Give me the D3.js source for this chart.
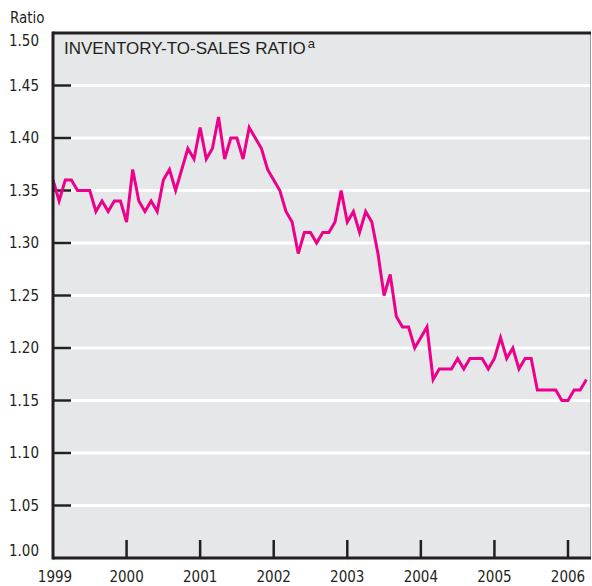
<!DOCTYPE html>
<html>
<head>
<meta charset="utf-8">
<script src="https://cdn.jsdelivr.net/npm/d3@7"></script>
<style>
  html, body { margin: 0; padding: 0; background: #fff; }
  svg { display: block; }
  .lab { font-family: "Liberation Sans Narrow", "DejaVu Sans Condensed", "Arial Narrow", sans-serif; font-size: 15px; fill: #231f20; }
  .title { font-family: "Liberation Sans", Arial, sans-serif; font-size: 17px; fill: #231f20; }
</style>
</head>
<body>
<div id="chart"></div>
<script>
// monthly inventory-to-sales ratio, Jan 1999 .. Apr 2006
const ratio1999 = [1.36, 1.34, 1.36, 1.36, 1.35, 1.35, 1.35, 1.33, 1.34, 1.33, 1.34, 1.34]
const ratio2000 = [1.32, 1.37, 1.34, 1.33, 1.34, 1.33, 1.36, 1.37, 1.35, 1.37, 1.39, 1.38]
const ratio2001 = [1.41, 1.38, 1.39, 1.42, 1.38, 1.40, 1.40, 1.38, 1.41, 1.40, 1.39, 1.37]
const ratio2002 = [1.36, 1.35, 1.33, 1.32, 1.29, 1.31, 1.31, 1.30, 1.31, 1.31, 1.32, 1.35]
const ratio2003 = [1.32, 1.33, 1.31, 1.33, 1.32, 1.29, 1.25, 1.27, 1.23, 1.22, 1.22, 1.20]
const ratio2004 = [1.21, 1.22, 1.17, 1.18, 1.18, 1.18, 1.19, 1.18, 1.19, 1.19, 1.19, 1.18]
const ratio2005 = [1.19, 1.21, 1.19, 1.20, 1.18, 1.19, 1.19, 1.16, 1.16, 1.16, 1.16, 1.15]
const ratio2006 = [1.15, 1.16, 1.16, 1.17]

const years = ["1999", "2000", "2001", "2002", "2003", "2004", "2005", "2006"]
const yTicks = [1.00, 1.05, 1.10, 1.15, 1.20, 1.25, 1.30, 1.35, 1.40, 1.45, 1.50]

const ratios = [].concat(ratio1999, ratio2000, ratio2001, ratio2002, ratio2003, ratio2004, ratio2005, ratio2006)

const w = 592,
      h = 586,
      margin = {top: 33, right: 1, bottom: 28, left: 53},
      x = d3.scaleLinear()
        .domain([0, 84])   // months since Jan 1999
        .range([margin.left, 568]),
      y = d3.scaleLinear()
        .domain([1.0, 1.5])
        .range([h - margin.bottom, margin.top])

const svg = d3.select("#chart").append("svg")
  .attr("width", w)
  .attr("height", h)

// panel background
svg.append("rect")
  .attr("x", x(0))
  .attr("y", y(1.5))
  .attr("width", w - margin.right - x(0))
  .attr("height", y(1.0) - y(1.5))
  .attr("fill", "#e6e7e8")

// white gridlines
svg.append("g")
  .selectAll("line")
  .data(yTicks.filter(d => d > 1.0 && d < 1.5))
  .join("line")
    .attr("x1", x(0))
    .attr("x2", w - margin.right)
    .attr("y1", d => y(d))
    .attr("y2", d => y(d))
    .attr("stroke", "#fff")
    .attr("stroke-width", 3)

// right border
svg.append("line")
  .attr("x1", w - margin.right - 0.5)
  .attr("x2", w - margin.right - 0.5)
  .attr("y1", y(1.5))
  .attr("y2", y(1.0))
  .attr("stroke", "#9a9a9a")
  .attr("stroke-width", 1)

// top border
svg.append("line")
  .attr("x1", x(0))
  .attr("x2", w - margin.right)
  .attr("y1", y(1.5))
  .attr("y2", y(1.5))
  .attr("stroke", "#231f20")
  .attr("stroke-width", 3)

// y ticks (inside)
svg.append("g")
  .selectAll("line")
  .data(yTicks.filter(d => d > 1.0 && d < 1.5))
  .join("line")
    .attr("x1", x(0))
    .attr("x2", x(0) + 18)
    .attr("y1", d => y(d))
    .attr("y2", d => y(d))
    .attr("stroke", "#231f20")
    .attr("stroke-width", 2.5)

// x ticks (inside, upward)
svg.append("g")
  .selectAll("line")
  .data(years.slice(1))
  .join("line")
    .attr("x1", (d, i) => x((i + 1) * 12))
    .attr("x2", (d, i) => x((i + 1) * 12))
    .attr("y1", y(1.0))
    .attr("y2", y(1.0) - 18)
    .attr("stroke", "#231f20")
    .attr("stroke-width", 2.5)

// the series
svg.append("path")
  .datum(ratios)
  .attr("fill", "none")
  .attr("stroke", "#ec008c")
  .attr("stroke-width", 3)
  .attr("stroke-linejoin", "miter")
  .attr("d", d3.line()
    .x((d, i) => x(i))
    .y(d => y(d)))

// axes lines
svg.append("line")
  .attr("x1", x(0))
  .attr("x2", x(0))
  .attr("y1", y(1.5) - 1.5)
  .attr("y2", y(1.0) + 1.5)
  .attr("stroke", "#231f20")
  .attr("stroke-width", 3)
svg.append("line")
  .attr("x1", x(0))
  .attr("x2", w - margin.right)
  .attr("y1", y(1.0))
  .attr("y2", y(1.0))
  .attr("stroke", "#231f20")
  .attr("stroke-width", 3)

// y labels
svg.append("g")
  .selectAll("text")
  .data(yTicks)
  .join("text")
    .attr("class", "lab")
    .attr("x", 39)
    .attr("y", d => d === 1.5 ? y(d) + 8 : d === 1.0 ? y(d) - 7 : y(d))
    .attr("dy", "0.35em")
    .attr("text-anchor", "end")
    .text(d => d.toFixed(2))

// x labels
svg.append("g")
  .selectAll("text")
  .data(years)
  .join("text")
    .attr("class", "lab")
    .attr("x", (d, i) => x(i * 12) + (i === 0 ? 2 : 0))
    .attr("y", 582)
    .attr("text-anchor", "middle")
    .text(d => d)

svg.append("text")
  .attr("class", "lab")
  .attr("x", 10)
  .attr("y", 23)
  .text("Ratio")

const title = svg.append("text")
  .attr("class", "title")
  .attr("x", 64)
  .attr("y", 54)
title.append("tspan").text("INVENTORY-TO-SALES RATIO")
title.append("tspan")
  .attr("dx", 2)
  .attr("dy", -6)
  .attr("font-size", 13)
  .text("a")
</script>
</body>
</html>
